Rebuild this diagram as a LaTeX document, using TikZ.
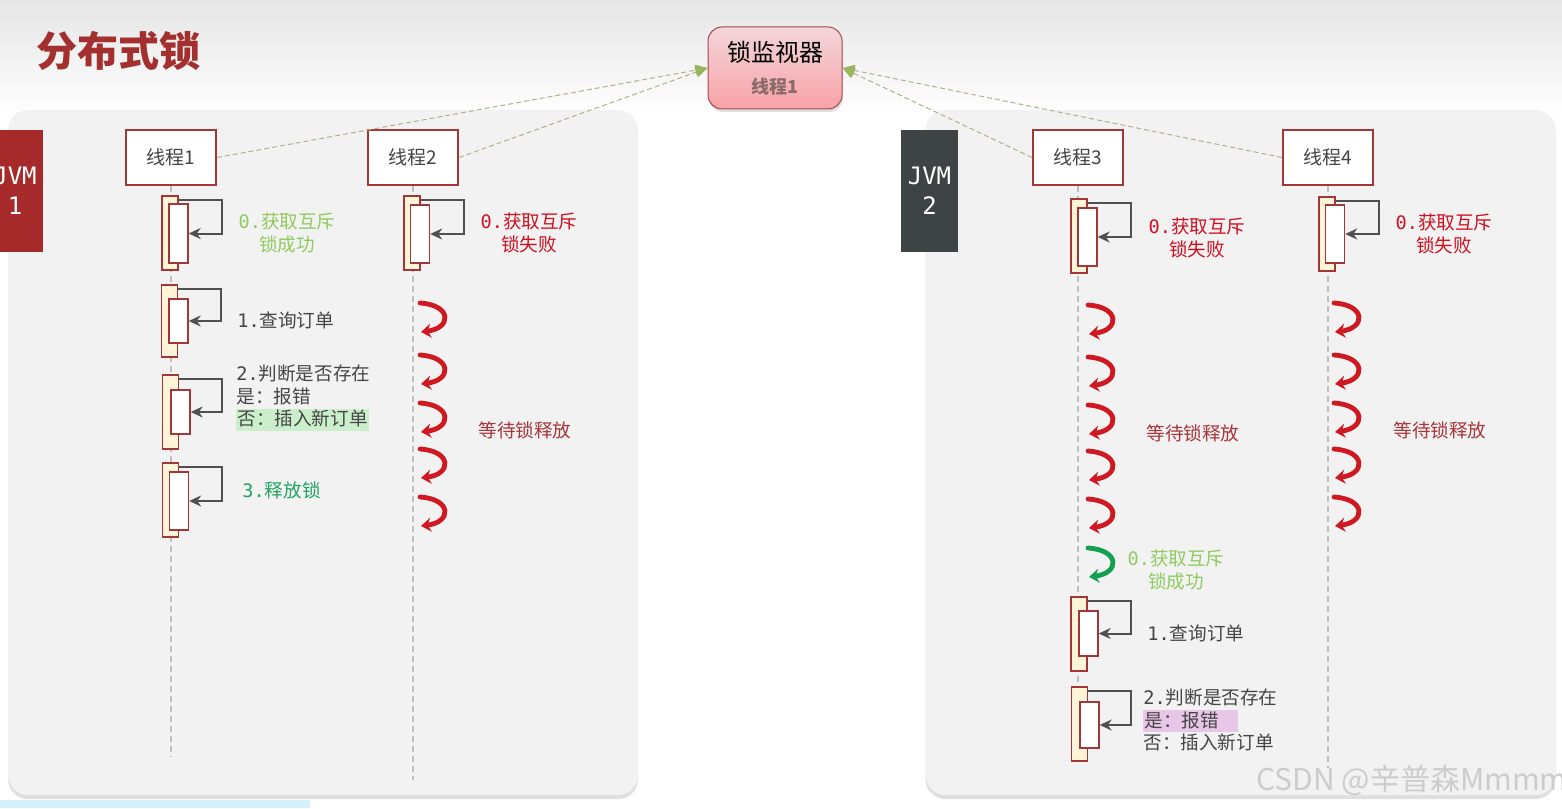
\documentclass[tikz,border=0pt]{standalone}
\usepackage{fontspec}
\setmainfont{Noto Sans CJK SC}
\setmonofont{DejaVu Sans Mono}
\usetikzlibrary{arrows.meta, shadows, positioning}

\definecolor{titlered}{HTML}{A3302F}
\definecolor{jvmred}{HTML}{A62A2A}
\definecolor{jvmgray}{HTML}{3E4443}
\definecolor{panelgray}{HTML}{F2F2F2}
\definecolor{threadred}{HTML}{A33636}
\definecolor{barcream}{HTML}{FFF4D8}
\definecolor{loopgray}{HTML}{505050}
\definecolor{waitred}{HTML}{D01820}
\definecolor{okgreen}{HTML}{15A050}
\definecolor{textgray}{HTML}{454545}
\definecolor{lightok}{HTML}{8FCB5E}
\definecolor{failred}{HTML}{D01020}
\definecolor{relgreen}{HTML}{22A462}
\definecolor{waitlabel}{HTML}{A8353A}
\definecolor{hlgreen}{HTML}{CCEFCB}
\definecolor{hlpink}{HTML}{E8C6E8}
\definecolor{linktan}{HTML}{B8AE85}
\definecolor{arrowgreen}{HTML}{98B65C}
\definecolor{monborder}{HTML}{A54850}
\definecolor{montop}{HTML}{F3D6D9}
\definecolor{monbot}{HTML}{F8A2A7}
\definecolor{montext}{HTML}{8A6A6A}
\definecolor{stripblue}{HTML}{D2F1FA}

\newcommand{\hlbox}[2]{{\setlength{\fboxsep}{0.5pt}\colorbox{#1}{\rule[-2.2pt]{0pt}{9.3pt}#2}}}
% activation bar: name, outer x, outer y, outer height, inner x, inner y, inner height
\newcommand{\actbar}[7]{%
  \node[outerbar, minimum height=#4] (#1o) at (#2,#3) {};
  \node[innerbar, minimum height=#7] (#1i) at (#5,#6) {};
  \draw[selfloop] (#1o.north east) ++(0,5) -- ++(43,0) |- (#1i.east);
}

\tikzset{
  panel/.style={fill=panelgray, rounded corners=10pt, minimum width=315pt, minimum height=342.5pt,
    drop shadow={shadow xshift=0pt, shadow yshift=-2pt, opacity=0.25}},
  jvmtab/.style={minimum width=28pt, minimum height=61pt, text=white, align=center,
    font=\ttfamily\fontsize{12}{15}\selectfont},
  monitor/.style={draw=monborder, line width=0.5pt, rounded corners=7pt, top color=montop,
    bottom color=monbot, minimum width=67pt, minimum height=41pt, align=center,
    font=\fontsize{12}{16}\selectfont,
    drop shadow={shadow xshift=0.5pt, shadow yshift=-1.5pt, opacity=0.25}},
  thread/.style={draw=threadred, line width=1pt, fill=white, minimum width=45pt,
    minimum height=27.5pt, inner sep=0pt, text=textgray, font=\fontsize{9.5}{11}\selectfont},
  lifeline/.style={draw=gray!50, line width=0.6pt, dash pattern=on 3pt off 2pt},
  monlink/.style={draw=linktan, line width=0.5pt, dash pattern=on 2.5pt off 1.5pt,
    -{Triangle[length=6pt, width=5.5pt, color=arrowgreen]}},
  outerbar/.style={draw=threadred, fill=barcream, line width=0.7pt, minimum width=8pt, inner sep=0pt},
  innerbar/.style={draw=threadred, fill=white, line width=0.7pt, minimum width=9.5pt, inner sep=0pt},
  selfloop/.style={draw=loopgray, line width=1pt, -{Stealth[length=6pt, width=5.5pt]}},
  waitarrow/.style={draw=waitred, line width=2.4pt, line cap=round, -{Stealth[length=5pt, width=7pt]}},
  okarrow/.style={waitarrow, draw=okgreen},
  lbl/.style={inner sep=0pt, font=\fontsize{9.3}{11.25}\selectfont},
}

\begin{document}
\begin{tikzpicture}[x=0.5pt, y=-0.5pt]
% Canvas
\clip (0,0) rectangle (1562,808);
\fill[white] (0,0) rectangle (1562,808);
\shade[top color=gray!20, bottom color=white] (0,0) rectangle (1562,115);
\fill[stripblue] (0,800) rectangle (310,808);

% Title
\node[font=\bfseries\fontsize{20.5}{24}\selectfont, text=titlered] (title) at (118,51) {分布式锁};

% Panels
\node[panel] (jvm1box) at (323,452.5) {};
\node[panel] (jvm2box) at (1240.5,452.5) {};
\node[jvmtab, fill=jvmred] (jvm1) at (15,191) {JVM\\1};
\node[jvmtab, fill=jvmgray] (jvm2) at (929.5,191) {JVM\\2};

% Lock monitor
\node[monitor] (mon) at (775,68) {锁监视器\\{\fontsize{9}{11}\selectfont\bfseries\color{montext}线程1}};

% Threads
\node[thread] (t1) at (171,157.5) {线程1};
\node[thread] (t2) at (413,157.5) {线程2};
\node[thread] (t3) at (1078,157.5) {线程3};
\node[thread] (t4) at (1328,157.5) {线程4};

\draw[monlink] (t1.east) -- (mon.west);
\draw[monlink] (t2.east) -- (mon.west);
\draw[monlink] (t3.west) -- (mon.east);
\draw[monlink] (t4.west) -- (mon.east);

% Lifelines
\coordinate (t1end) at (170,757);
\coordinate (t2end) at (411,780);
\coordinate (t3end) at (1078,765);
\coordinate (t4end) at (1326,768);
\draw[lifeline] (t1.south) -- (t1.south |- t1end);
\draw[lifeline] (t2.south) -- (t2.south |- t2end);
\draw[lifeline] (t3.south) -- (t3.south |- t3end);
\draw[lifeline] (t4.south) -- (t4.south |- t4end);

% Activations
\actbar{a1}{170}{233}{37pt}{178.5}{233.5}{29.5pt}
\actbar{a2}{169.5}{321}{36pt}{178.5}{321}{22pt}
\actbar{a3}{170.5}{412}{37pt}{180.5}{412}{22pt}
\actbar{a4}{170.5}{500}{37pt}{179}{501}{29pt}
\actbar{b1}{412}{233}{37pt}{420}{234}{29pt}
\actbar{c1}{1079}{236}{37pt}{1087.5}{237}{29pt}
\actbar{c2}{1079}{634}{37pt}{1088.5}{633.5}{22.5pt}
\actbar{c3}{1079.5}{724}{37pt}{1089.5}{725}{23pt}
\actbar{d1}{1327}{234}{37pt}{1335}{234}{29pt}

% Waiting
\foreach \c in {318,370,418,464,512}
  \draw[waitarrow] (420,\c-15) .. controls (452,\c-13) and (452,\c+10) .. (421,\c+14);
\foreach \c in {320,372,420,466,514}
  \draw[waitarrow] (1088,\c-15) .. controls (1120,\c-13) and (1120,\c+10) .. (1089,\c+14);
\foreach \c in {318,370,418,464,512}
  \draw[waitarrow] (1334,\c-15) .. controls (1366,\c-13) and (1366,\c+10) .. (1335,\c+14);
\draw[okarrow] (1088,548) .. controls (1120,550) and (1120,573) .. (1089,577);

% Labels, JVM 1
\node[lbl, text=lightok, align=center] (ok1) at (287,233) {{\ttfamily 0.}获取互斥\\锁成功};
\node[lbl, text=failred, align=center] (fail2) at (529,233) {{\ttfamily 0.}获取互斥\\锁失败};
\node[lbl, text=textgray, anchor=west] (query1) at (237,320) {{\ttfamily 1.}查询订单};
\node[lbl, text=textgray, anchor=west, align=left] (check1) at (236,398)
  {{\ttfamily 2.}判断是否存在\\是：报错\\\hlbox{hlgreen}{否：插入新订单}};
\node[lbl, text=relgreen, anchor=west] (release1) at (242,490) {{\ttfamily 3.}释放锁};
\node[lbl, text=waitlabel] (wait2) at (525,430) {等待锁释放};

% Labels, JVM 2
\node[lbl, text=failred, align=center] (fail3) at (1197,238) {{\ttfamily 0.}获取互斥\\锁失败};
\node[lbl, text=failred, align=center] (fail4) at (1444,234) {{\ttfamily 0.}获取互斥\\锁失败};
\node[lbl, text=waitlabel] (wait3) at (1193,433) {等待锁释放};
\node[lbl, text=waitlabel] (wait4) at (1440,430) {等待锁释放};
\node[lbl, text=lightok, align=center] (ok3) at (1176,570) {{\ttfamily 0.}获取互斥\\锁成功};
\node[lbl, text=textgray, anchor=west] (query3) at (1147,633) {{\ttfamily 1.}查询订单};
\node[lbl, text=textgray, anchor=west, align=left] (check3) at (1143,720)
  {{\ttfamily 2.}判断是否存在\\\hlbox{hlpink}{是：报错\hspace{1em}}\\否：插入新订单};

% Watermark
\node[anchor=west, inner sep=0pt, text=gray!40, font=\fontsize{15}{18}\selectfont] (mark) at (1256,780) {CSDN @辛普森Mmmm};
\end{tikzpicture}
\end{document}
